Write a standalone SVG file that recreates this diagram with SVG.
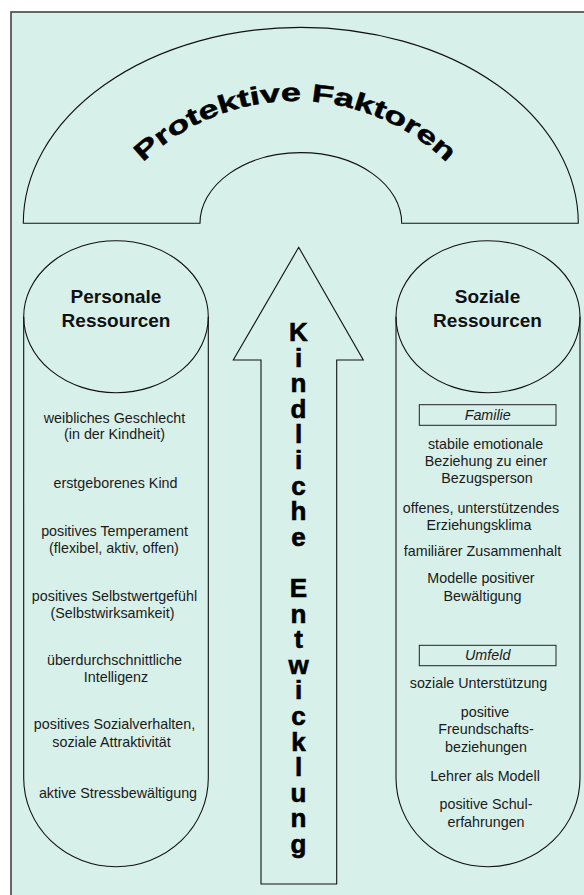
<svg xmlns="http://www.w3.org/2000/svg" width="584" height="895" viewBox="0 0 584 895">
<style>
.shape{fill:#d8f0ea;stroke:#111;stroke-width:1.1}
.line{fill:none;stroke:#111;stroke-width:1.1}
.box{fill:none;stroke:#222;stroke-width:1}
text{font-family:"Liberation Sans",Arial,Helvetica,sans-serif;fill:#111}
.body{font-size:14.3px;text-anchor:middle;fill:#1a1a1a}
.it{font-style:italic}
.head{font-size:19px;font-weight:bold;text-anchor:middle}
.vert{font-size:26px;font-weight:bold;text-anchor:middle;fill:#000;stroke:#000;stroke-width:0.6}
.arc{font-size:25px;font-weight:bold;text-anchor:middle;fill:#000;stroke:#000;stroke-width:0.5}
</style>
<rect x="0" y="0" width="584" height="895" fill="#ffffff"/>
<rect x="11" y="12" width="620" height="920" fill="#d8f0ea" stroke="#444" stroke-width="1.6"/>

<g id="protektive-faktoren">
<path class="shape" d="M23.3,223.3 A277.5,196 0 0 1 578.3,223.3 L401.7,223.3 A100.8,70.6 0 0 0 200,223.3 Z"/>
<text class="arc" transform="translate(151.9,154.5) rotate(-41.01) scale(1.44,1)">P</text>
<text class="arc" transform="translate(166.8,142.7) rotate(-36.02) scale(1.44,1)">r</text>
<text class="arc" transform="translate(181.8,132.7) rotate(-31.28) scale(1.44,1)">o</text>
<text class="arc" transform="translate(196.6,124.5) rotate(-26.82) scale(1.44,1)">t</text>
<text class="arc" transform="translate(211.2,117.8) rotate(-22.61) scale(1.44,1)">e</text>
<text class="arc" transform="translate(230.0,110.9) rotate(-17.35) scale(1.44,1)">k</text>
<text class="arc" transform="translate(245.4,106.7) rotate(-13.15) scale(1.44,1)">t</text>
<text class="arc" transform="translate(256.2,104.5) rotate(-10.26) scale(1.44,1)">i</text>
<text class="arc" transform="translate(271.0,102.3) rotate(-6.31) scale(1.44,1)">v</text>
<text class="arc" transform="translate(291.0,101.0) rotate(-1.05) scale(1.44,1)">e</text>
<text class="arc" transform="translate(321.9,102.7) rotate(7.10) scale(1.44,1)">F</text>
<text class="arc" transform="translate(342.6,106.3) rotate(12.62) scale(1.44,1)">a</text>
<text class="arc" transform="translate(361.9,111.5) rotate(17.88) scale(1.44,1)">k</text>
<text class="arc" transform="translate(377.0,117.0) rotate(22.09) scale(1.44,1)">t</text>
<text class="arc" transform="translate(392.4,124.0) rotate(26.55) scale(1.44,1)">o</text>
<text class="arc" transform="translate(408.2,132.7) rotate(31.28) scale(1.44,1)">r</text>
<text class="arc" transform="translate(422.4,142.1) rotate(35.76) scale(1.44,1)">e</text>
<text class="arc" transform="translate(438.8,155.2) rotate(41.28) scale(1.44,1)">n</text>
</g>

<g id="personale-ressourcen">
<path class="shape" d="M23.7,316.7 A92.3,76 0 0 1 208.3,316.7 L208.3,778 A92.3,88.7 0 0 1 23.7,778 Z"/>
<path class="line" d="M23.7,316.7 A92.3,76 0 0 0 208.3,316.7"/>
<text class="head" x="116" y="302.7">Personale</text>
<text class="head" x="116" y="326.7">Ressourcen</text>
<text class="body" x="114.5" y="422.7">weibliches Geschlecht</text>
<text class="body" x="114.5" y="439.3">(in der Kindheit)</text>
<text class="body" x="115.5" y="488.3">erstgeborenes Kind</text>
<text class="body" x="114.5" y="536">positives Temperament</text>
<text class="body" x="114" y="553.3">(flexibel, aktiv, offen)</text>
<text class="body" x="114.5" y="601">positives Selbstwertgefühl</text>
<text class="body" x="112.5" y="618.3">(Selbstwirksamkeit)</text>
<text class="body" x="114.5" y="665">überdurchschnittliche</text>
<text class="body" x="116" y="682.3">Intelligenz</text>
<text class="body" x="114.5" y="729.3">positives Sozialverhalten,</text>
<text class="body" x="111.5" y="746.7">soziale Attraktivität</text>
<text class="body" x="118" y="798.3">aktive Stressbewältigung</text>
</g>

<g id="soziale-ressourcen">
<path class="shape" d="M396,316.7 A92,76 0 0 1 580,316.7 L580,778 A92,88.7 0 0 1 396,778 Z"/>
<path class="line" d="M396,316.7 A92,76 0 0 0 580,316.7"/>
<text class="head" x="487.5" y="302.7">Soziale</text>
<text class="head" x="487.5" y="326.7">Ressourcen</text>
<rect class="box" x="419.3" y="404.7" width="136.7" height="20.6"/>
<text class="body it" x="487.7" y="419.6">Familie</text>
<text class="body" x="485.5" y="448.7">stabile emotionale</text>
<text class="body" x="486" y="466">Beziehung zu einer</text>
<text class="body" x="487" y="483.3">Bezugsperson</text>
<text class="body" x="481" y="512.7">offenes, unterstützendes</text>
<text class="body" x="479" y="530.3">Erziehungsklima</text>
<text class="body" x="482.5" y="555.5">familiärer Zusammenhalt</text>
<text class="body" x="481" y="583.3">Modelle positiver</text>
<text class="body" x="482.5" y="601">Bewältigung</text>
<rect class="box" x="419.3" y="645.3" width="136.7" height="20.4"/>
<text class="body it" x="487.7" y="660">Umfeld</text>
<text class="body" x="478.5" y="688.3">soziale Unterstützung</text>
<text class="body" x="485" y="716.7">positive</text>
<text class="body" x="486" y="734.3">Freundschafts-</text>
<text class="body" x="486" y="751.7">beziehungen</text>
<text class="body" x="485" y="781">Lehrer als Modell</text>
<text class="body" x="486" y="809">positive Schul-</text>
<text class="body" x="486" y="826.7">erfahrungen</text>
</g>

<g id="kindliche-entwicklung">
<polygon class="shape" points="298.7,247.3 363.3,360 336.7,360 336.7,884 261,884 261,360 233.3,360"/>
<text class="vert" x="298.5" y="341"><tspan x="298.5">K</tspan><tspan x="298.5" dy="25.6">i</tspan><tspan x="298.5" dy="25.6">n</tspan><tspan x="298.5" dy="25.6">d</tspan><tspan x="298.5" dy="25.6">l</tspan><tspan x="298.5" dy="25.6">i</tspan><tspan x="298.5" dy="25.6">c</tspan><tspan x="298.5" dy="25.6">h</tspan><tspan x="298.5" dy="25.6">e</tspan><tspan x="298.5" dy="51.2">E</tspan><tspan x="298.5" dy="25.6">n</tspan><tspan x="298.5" dy="25.6">t</tspan><tspan x="298.5" dy="25.6">w</tspan><tspan x="298.5" dy="25.6">i</tspan><tspan x="298.5" dy="25.6">c</tspan><tspan x="298.5" dy="25.6">k</tspan><tspan x="298.5" dy="25.6">l</tspan><tspan x="298.5" dy="25.6">u</tspan><tspan x="298.5" dy="25.6">n</tspan><tspan x="298.5" dy="25.6">g</tspan></text>
</g>

<g id="connectors"/>
</svg>
